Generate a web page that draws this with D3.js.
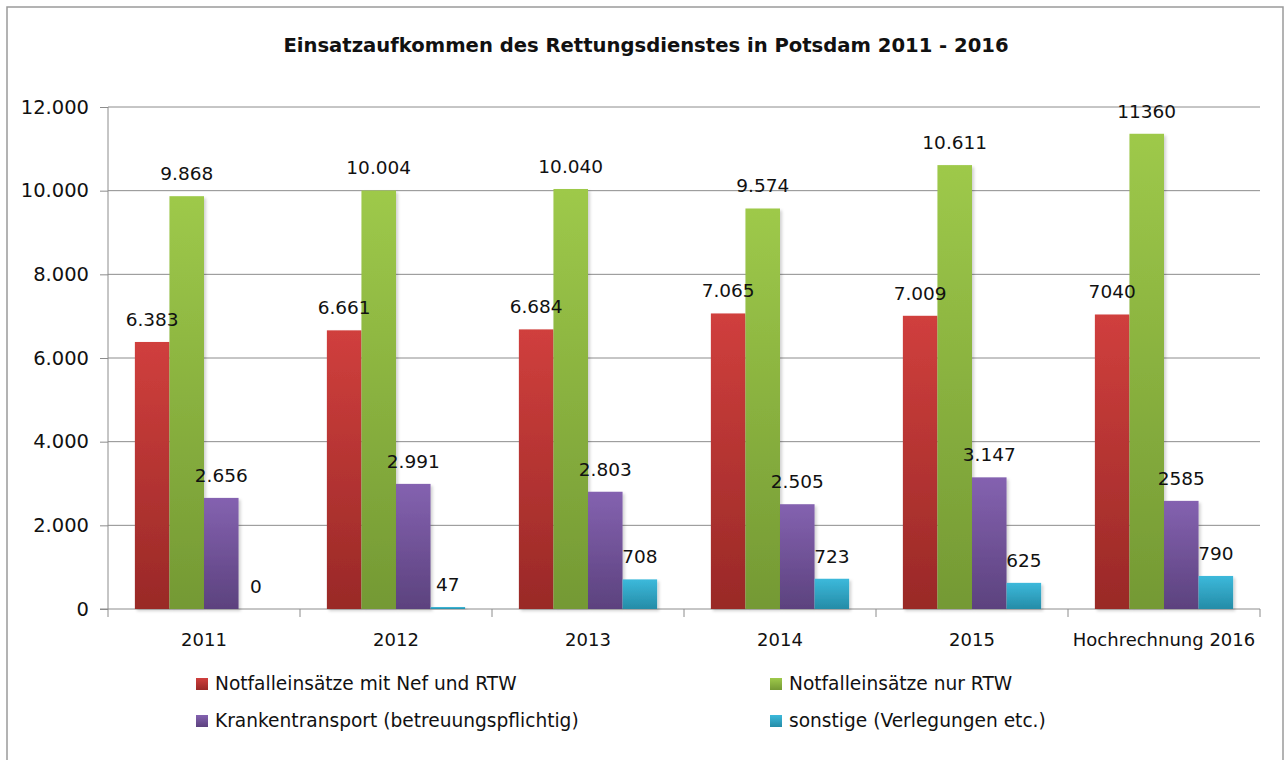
<!DOCTYPE html>
<html><head><meta charset="utf-8">
<script src="https://cdn.jsdelivr.net/npm/d3@7"></script>
<style>body{margin:0;background:#fff}svg{display:block}text{font-family:"DejaVu Sans",sans-serif;fill:#111}</style>
</head><body>
<svg id="c" width="1284" height="760"></svg>
<script>
const title = "Einsatzaufkommen des Rettungsdienstes in Potsdam 2011 - 2016";
const categories = ["2011","2012","2013","2014","2015","Hochrechnung 2016"];
const seriesNames = ["Notfalleinsätze mit Nef und RTW","Notfalleinsätze nur RTW","Krankentransport (betreuungspflichtig)","sonstige (Verlegungen etc.)"];
const nefRtw   = [6383, 6661, 6684, 7065, 7009, 7040];
const nurRtw   = [9868, 10004, 10040, 9574, 10611, 11360];
const kranken  = [2656, 2991, 2803, 2505, 3147, 2585];
const sonstige = [0, 47, 708, 723, 625, 790];
const nefRtwLabels   = ["6.383","6.661","6.684","7.065","7.009","7040"];
const nurRtwLabels   = ["9.868","10.004","10.040","9.574","10.611","11360"];
const krankenLabels  = ["2.656","2.991","2.803","2.505","3.147","2585"];
const sonstigeLabels = ["0","47","708","723","625","790"];
const yTicks = [0,2000,4000,6000,8000,10000,12000];
const yTickLabels = ["0","2.000","4.000","6.000","8.000","10.000","12.000"];

const series = [nefRtw, nurRtw, kranken, sonstige];
const seriesLabels = [nefRtwLabels, nurRtwLabels, krankenLabels, sonstigeLabels];
const grads = [["#d03f3d","#992927"],["#9ec94a","#749934"],["#8462b0","#5c427e"],["#3cb9db","#258ca7"]];

const svg = d3.select("#c");
const defs = svg.append("defs");
grads.forEach((g,i)=>{
  const lg = defs.append("linearGradient").attr("id","g"+i).attr("x1",0).attr("y1",0).attr("x2",0).attr("y2",1);
  lg.append("stop").attr("offset","0%").attr("stop-color",g[0]);
  lg.append("stop").attr("offset","100%").attr("stop-color",g[1]);
});
const f = defs.append("filter").attr("id","sh").attr("x","-20%").attr("y","-5%").attr("width","150%").attr("height","120%");
f.append("feDropShadow").attr("dx",2).attr("dy",2).attr("stdDeviation",1.5).attr("flood-color","#000").attr("flood-opacity",0.18);

// outer frame
svg.append("rect").attr("x",7).attr("y",7).attr("width",1276).attr("height",780)
  .attr("fill","none").attr("stroke","#9a9a9a").attr("stroke-width",1.5);

svg.append("text").attr("x",646).attr("y",52).attr("text-anchor","middle")
  .style("font-weight","bold").style("font-size","19.6px").text(title);

const L=108, R=1260, T=107, B=609;
const y = d3.scaleLinear().domain([0,12000]).range([B,T]);
const x0 = d3.scaleBand().domain(categories).range([L,R]).paddingInner(0.28).paddingOuter(0.14);
const x1 = d3.scaleBand().domain(d3.range(4)).range([0,x0.bandwidth()]);

// gridlines
svg.append("g").selectAll("line").data(yTicks.slice(1)).join("line")
  .attr("x1",L).attr("x2",R).attr("y1",d=>y(d)).attr("y2",d=>y(d))
  .attr("stroke","#8c8c8c").attr("stroke-width",1);

// y axis
const yAxis = d3.axisLeft(y).tickValues(yTicks).tickFormat((d,i)=>yTickLabels[i]).tickSize(8).tickPadding(11);
const ga = svg.append("g").attr("transform",`translate(${L},0)`).call(yAxis);
ga.select(".domain").attr("stroke","#8c8c8c").attr("d",`M0,${T}V${B}`);
ga.selectAll(".tick line").attr("stroke","#8c8c8c");
ga.selectAll(".tick text").style("font-size","19.5px").attr("fill","#111").style("font-family","DejaVu Sans");

// x axis
const catBounds = d3.range(categories.length+1).map(i=>L + i*x0.step());
const gx = svg.append("g");
gx.append("line").attr("x1",L-8).attr("x2",R).attr("y1",B).attr("y2",B).attr("stroke","#8c8c8c");
gx.selectAll("line.t").data(catBounds).join("line").attr("class","t")
  .attr("x1",d=>d).attr("x2",d=>d).attr("y1",B).attr("y2",B+8).attr("stroke","#8c8c8c");
gx.selectAll("text").data(categories).join("text")
  .attr("x",d=>x0(d)+x0.bandwidth()/2).attr("y",646).attr("text-anchor","middle")
  .style("font-size","18px").text(d=>d);

// bars
series.forEach((s,si)=>{
  svg.append("g").selectAll("rect").data(s).join("rect")
    .attr("x",(d,i)=>x0(categories[i])+x1(si)).attr("width",x1.bandwidth())
    .attr("y",d=>y(d)).attr("height",d=>B-y(d))
    .attr("fill",`url(#g${si})`).attr("filter","url(#sh)");
});
// value labels on top
series.forEach((s,si)=>{
  svg.append("g").selectAll("text").data(s).join("text")
    .attr("x",(d,i)=>x0(categories[i])+x1(si)+x1.bandwidth()/2)
    .attr("y",d=>y(d)-16).attr("text-anchor","middle")
    .style("font-size","18.5px").text((d,i)=>seriesLabels[si][i]);
});

// legend
const legPos = [[196,684],[770,684],[196,721],[770,721]];
seriesNames.forEach((n,i)=>{
  const [lx,ly] = legPos[i];
  svg.append("rect").attr("x",lx).attr("y",ly-6).attr("width",12).attr("height",12).attr("fill",`url(#g${i})`);
  svg.append("text").attr("x",lx+19).attr("y",ly+6).style("font-size","18.6px").text(n);
});
</script>
</body></html>
